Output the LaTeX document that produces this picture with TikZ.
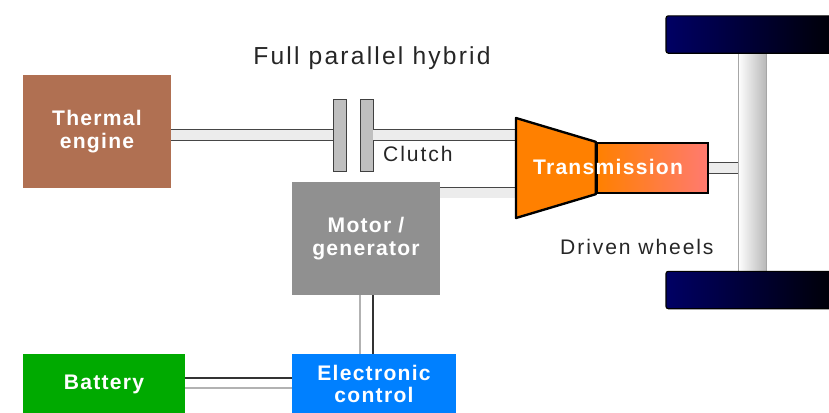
\documentclass[tikz,border=0pt]{standalone}
\usepackage{fontspec}
\setmainfont{Liberation Sans}
\newfontfamily\hybcaptionfont{Liberation Sans}[LetterSpace=9]
\newfontfamily\hybblockfont{Liberation Sans}[LetterSpace=6]
\usetikzlibrary{calc}
\definecolor{engineBrown}{RGB}{176,112,82}
\definecolor{motorGrey}{RGB}{144,144,144}
\definecolor{batteryGreen}{RGB}{0,170,0}
\definecolor{controlBlue}{RGB}{0,128,255}
\definecolor{transOrange}{RGB}{255,128,0}
\definecolor{transPink}{RGB}{255,122,112}
\definecolor{wheelNavy}{RGB}{0,0,100}
\tikzset{
    hyb_block/.style={
        rectangle,
        inner sep=0pt,
        text=white,
        align=center,
        font=\hybblockfont\bfseries\fontsize{18}{19.5}\selectfont
    },
    hyb_plate/.style={
        rectangle,
        inner sep=0pt,
        minimum width=0.39cm,
        minimum height=2.16cm,
        fill=gray!50,
        draw=gray!50!black,
        line width=0.6pt
    },
    hyb_wheel/.style={
        rectangle,
        rounded corners=2pt,
        inner sep=0pt,
        minimum width=5.37cm,
        minimum height=1.12cm,
        draw=black,
        line width=1pt,
        left color=wheelNavy,
        right color=black
    },
    hyb_shaft/.style={
        draw=gray!55!black,
        line width=0.6pt,
        double=gray!15,
        double distance=0.3cm
    },
    hyb_wire_dark/.style={
        draw=black!80,
        line width=0.9pt
    },
    hyb_wire_light/.style={
        draw=gray!60,
        line width=1pt
    },
    hyb_caption/.style={
        inner sep=0pt,
        text=black!85,
        font=\hybcaptionfont\fontsize{18}{20}\selectfont
    }
}

\begin{document}
\begin{tikzpicture}[x=0.03cm, y=-0.03cm]
\useasboundingbox (0,0) rectangle (829,412);

\node[hyb_block, fill=engineBrown, minimum width=4.44cm, minimum height=3.39cm] (engine) at (97,131.5) {Thermal\\engine};
\node[hyb_plate] (clutchA) at (339.5,135) {};
\node[hyb_plate] (clutchB) at (366.5,135) {};
\node[hyb_block, fill=motorGrey, minimum width=4.44cm, minimum height=3.39cm] (motor) at (366,238.5) {Motor /\\generator};
\node[hyb_block, fill=batteryGreen, minimum width=4.86cm, minimum height=1.8cm] (battery) at (104,384) {Battery};
\node[hyb_block, fill=controlBlue, minimum width=4.92cm, minimum height=1.8cm] (ecu) at (374,384) {Electronic\\control};

\node[rectangle, inner sep=0pt, minimum width=3.33cm, minimum height=1.5cm, draw=black, line width=2pt,
  left color=transOrange, right color=transPink] (gearbox) at (652.5,168) {};
\node[rectangle, inner sep=0pt, minimum width=0.84cm, minimum height=6.54cm, draw=gray!70,
  left color=white, right color=gray!55] (axle) at (752,162) {};
\node[hyb_wheel] (wheelTop) at (755.5,34.5) {};
\node[hyb_wheel] (wheelBot) at (755.5,290) {};

\coordinate (trNW) at (516,118);
\coordinate (trSW) at (516,218);
\coordinate (transIn) at (516,192.5);

% shafts
\draw[hyb_shaft] (engine.east |- clutchA) -- (clutchA.west);
\draw[hyb_shaft] (clutchB.east) -- (clutchB.east -| trNW);
\draw[hyb_shaft] (motor.east |- transIn) -- (transIn);
\draw[hyb_shaft] (gearbox.east) -- (gearbox.east -| axle.west);

\filldraw[fill=transOrange, draw=black, line width=2pt, line join=round]
  (gearbox.north west) -- (trNW) -- (trSW) -- (gearbox.south west) -- cycle;
\node[hyb_block] (transLabel) at (608,166.5) {Transmission};

% electric links
\draw[hyb_wire_light] ($(motor.south)+(-6,0)$) -- ($(motor.south |- ecu.north)+(-6,0)$);
\draw[hyb_wire_dark] ($(motor.south)+(7,0)$) -- ($(motor.south |- ecu.north)+(7,0)$);
\draw[hyb_wire_dark] ($(battery.east)+(0,-6)$) -- ($(battery.east -| ecu.west)+(0,-6)$);
\draw[hyb_wire_light] ($(battery.east)+(0,4)$) -- ($(battery.east -| ecu.west)+(0,4)$);

\node[hyb_caption, anchor=base, font=\hybcaptionfont\fontsize{21}{24}\selectfont] (title) at (372,64) {Full parallel hybrid};
\node[hyb_caption, anchor=base west] (clutchText) at (383,161) {Clutch};
\node[hyb_caption, anchor=base west] (wheelText) at (560,254) {Driven wheels};

\end{tikzpicture}
\end{document}
